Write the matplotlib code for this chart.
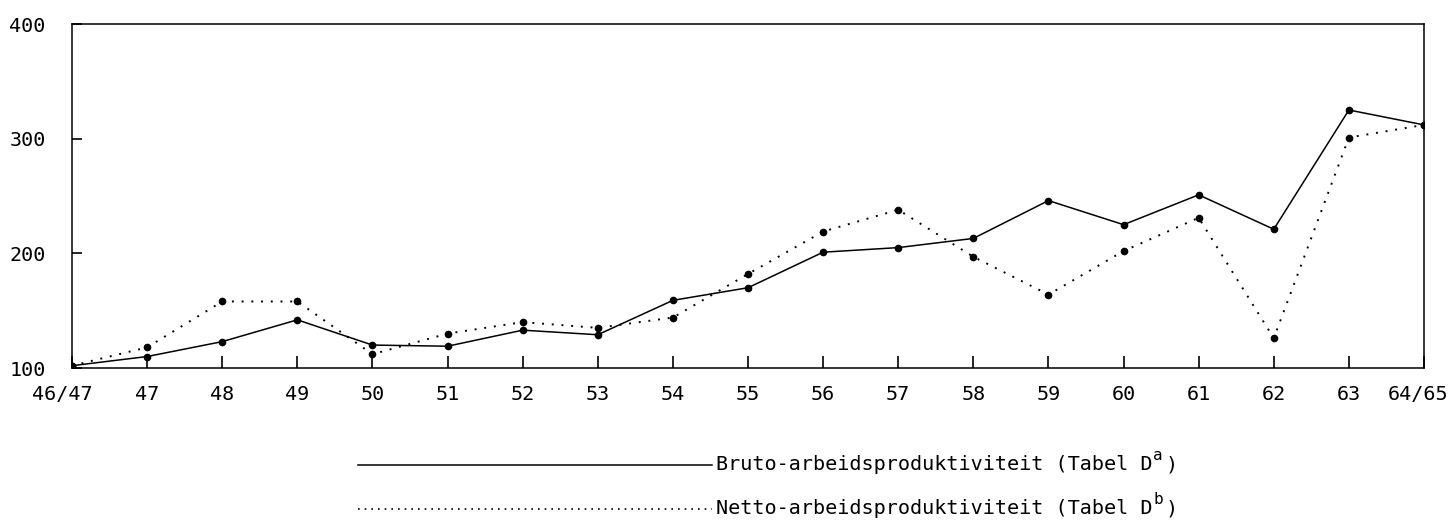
import matplotlib
matplotlib.use("Agg")
import matplotlib.pyplot as plt
from matplotlib.lines import Line2D
from matplotlib.transforms import ScaledTranslation

categories = ["46/47", "47", "48", "49", "50", "51", "52", "53", "54", "55",
              "56", "57", "58", "59", "60", "61", "62", "63", "64/65"]
bruto = [102, 110, 123, 142, 120, 119, 133, 129, 159, 170,
         201, 205, 213, 246, 225, 251, 221, 325, 312]
netto = [102, 118, 158, 158, 112, 130, 140, 135, 144, 182,
         219, 238, 197, 164, 202, 231, 126, 301, 312]
yticks = [100, 200, 300, 400]
label_bruto = "Bruto-arbeidsproduktiviteit (Tabel D"
label_netto = "Netto-arbeidsproduktiviteit (Tabel D"
sup_bruto = "a"
sup_netto = "b"

FONT = ["DejaVu Sans Mono", "DejaVu Sans"]
plt.rcParams["font.family"] = FONT
FS = 14.5

W, H = 1453, 525
fig = plt.figure(figsize=(W / 100, H / 100), dpi=100)
ax = fig.add_axes([72 / W, 1 - 368 / H, (1424 - 72) / W, (368 - 24) / H])

x = list(range(len(categories)))
ax.plot(x, bruto, color="black", lw=1.1, marker="o", ms=4.5)
ax.plot(x, netto, color="black", lw=1.4, linestyle=(0, (1, 4)),
        marker="o", ms=4.5)

ax.set_xlim(0, len(categories) - 1)
ax.set_ylim(100, 400)
ax.set_xticks(x)
ax.set_xticklabels(categories, fontsize=FS)
ax.set_yticks(yticks)
ax.set_yticklabels([str(v) for v in yticks], fontsize=FS)
ax.tick_params(axis="x", direction="in", length=9, width=1.2, pad=12)
ax.tick_params(axis="y", direction="in", length=7, width=1.2, pad=19)
for s in ax.spines.values():
    s.set_linewidth(1.1)

xt = ax.get_xticklabels()
xt[0].set_transform(xt[0].get_transform() + ScaledTranslation(-0.10, 0, fig.dpi_scale_trans))
xt[-1].set_transform(xt[-1].get_transform() + ScaledTranslation(-0.06, 0, fig.dpi_scale_trans))

# legend drawn manually
fig.canvas.draw()
renderer = fig.canvas.get_renderer()

def legend_row(ypix, style, lw, text, sup):
    y = 1 - ypix / H
    fig.add_artist(Line2D([358 / W, 712 / W], [y, y], color="black",
                          lw=lw, linestyle=style, transform=fig.transFigure))
    t = fig.text(716 / W, y, text, fontsize=FS, va="center", ha="left")
    bb = t.get_window_extent(renderer)
    t2 = fig.text(bb.x1 / W + 1 / W, y + 10 / H, sup, fontsize=FS * 0.8,
                  va="center", ha="left")
    bb2 = t2.get_window_extent(renderer)
    fig.text(bb2.x1 / W + 2 / W, y, ")", fontsize=FS, va="center", ha="left")

legend_row(465, "-", 1.1, label_bruto, sup_bruto)
legend_row(509, (0, (1, 3)), 1.2, label_netto, sup_netto)

fig.savefig("out.png", dpi=100)
